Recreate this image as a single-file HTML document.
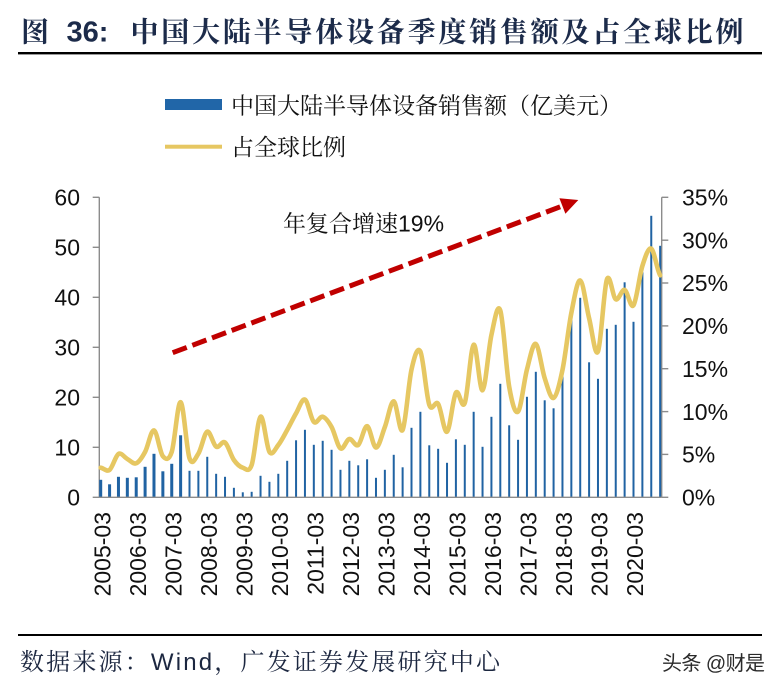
<!DOCTYPE html>
<html><head><meta charset="utf-8"><style>
html,body{margin:0;padding:0;background:#fff;}
svg{display:block;}
.cj{font-family:"Liberation Sans","Noto Serif CJK SC",serif;}
.ax{font-family:"Liberation Sans",sans-serif;font-size:23px;fill:#111;}
</style></head><body>
<svg width="784" height="692" viewBox="0 0 784 692" xmlns="http://www.w3.org/2000/svg">
<rect width="784" height="692" fill="#fff"/>
<text x="21" y="41.5" class="cj" font-size="28" font-weight="bold" fill="#1c2b4a">图</text>
<text x="66.5" y="41.5" font-family="Liberation Sans,sans-serif" font-size="29" font-weight="bold" fill="#1c2b4a">36:</text>
<text x="130.5" y="41.5" class="cj" font-size="28" font-weight="bold" fill="#1c2b4a" textLength="613" lengthAdjust="spacing">中国大陆半导体设备季度销售额及占全球比例</text>
<rect x="18" y="52" width="744" height="2.4" fill="#000"/>
<rect x="165" y="99" width="57" height="11" fill="#2166a8"/>
<text x="231" y="113.5" class="cj" font-size="23" fill="#111" textLength="391" lengthAdjust="spacing">中国大陆半导体设备销售额（亿美元）</text>
<rect x="165" y="144.7" width="57" height="4" fill="#e6c762"/>
<text x="231" y="155" class="cj" font-size="23" fill="#111" textLength="115" lengthAdjust="spacing">占全球比例</text>
<g stroke="#8c8c8c" stroke-width="1.4" fill="none">
<line x1="99.3" y1="197.3" x2="99.3" y2="497.3"/>
<line x1="661.7" y1="197.3" x2="661.7" y2="497.3"/>
<line x1="92.7" y1="197.3" x2="99.3" y2="197.3"/>
<line x1="92.7" y1="247.3" x2="99.3" y2="247.3"/>
<line x1="92.7" y1="297.3" x2="99.3" y2="297.3"/>
<line x1="92.7" y1="347.3" x2="99.3" y2="347.3"/>
<line x1="92.7" y1="397.3" x2="99.3" y2="397.3"/>
<line x1="92.7" y1="447.3" x2="99.3" y2="447.3"/>
<line x1="92.7" y1="497.3" x2="99.3" y2="497.3"/>
<line x1="661.7" y1="197.3" x2="668.3" y2="197.3"/>
<line x1="661.7" y1="240.2" x2="668.3" y2="240.2"/>
<line x1="661.7" y1="283.0" x2="668.3" y2="283.0"/>
<line x1="661.7" y1="325.9" x2="668.3" y2="325.9"/>
<line x1="661.7" y1="368.7" x2="668.3" y2="368.7"/>
<line x1="661.7" y1="411.6" x2="668.3" y2="411.6"/>
<line x1="661.7" y1="454.4" x2="668.3" y2="454.4"/>
<line x1="661.7" y1="497.3" x2="668.3" y2="497.3"/>
</g>
<g class="ax" text-anchor="end">
<text x="80" y="205.5">60</text>
<text x="80" y="255.5">50</text>
<text x="80" y="305.5">40</text>
<text x="80" y="355.5">30</text>
<text x="80" y="405.5">20</text>
<text x="80" y="455.5">10</text>
<text x="80" y="505.5">0</text>
</g>
<g class="ax">
<text x="682" y="205.5">35%</text>
<text x="682" y="248.4">30%</text>
<text x="682" y="291.2">25%</text>
<text x="682" y="334.1">20%</text>
<text x="682" y="376.9">15%</text>
<text x="682" y="419.8">10%</text>
<text x="682" y="462.6">5%</text>
<text x="682" y="505.5">0%</text>
</g>
<g fill="#2063a3">
<rect x="99.2" y="479.8" width="3" height="17.5"/>
<rect x="108.08" y="484.3" width="3" height="13"/>
<rect x="116.96" y="476.8" width="3" height="20.5"/>
<rect x="125.84" y="477.8" width="3" height="19.5"/>
<rect x="134.72" y="477.3" width="3" height="20"/>
<rect x="143.6" y="466.8" width="3" height="30.5"/>
<rect x="152.48" y="453.8" width="3" height="43.5"/>
<rect x="161.36" y="471.3" width="3" height="26"/>
<rect x="170.24" y="463.8" width="3" height="33.5"/>
<rect x="179.12" y="435.3" width="3" height="62"/>
<rect x="188.5" y="470.8" width="2" height="26.5"/>
<rect x="197.38" y="470.8" width="2" height="26.5"/>
<rect x="206.26" y="456.8" width="2" height="40.5"/>
<rect x="215.14" y="473.8" width="2" height="23.5"/>
<rect x="224.02" y="476.8" width="2" height="20.5"/>
<rect x="232.9" y="487.8" width="2" height="9.5"/>
<rect x="241.78" y="492.3" width="2" height="5"/>
<rect x="250.66" y="491.8" width="2" height="5.5"/>
<rect x="259.54" y="475.8" width="2" height="21.5"/>
<rect x="268.42" y="481.8" width="2" height="15.5"/>
<rect x="277.3" y="473.8" width="2" height="23.5"/>
<rect x="286.18" y="460.8" width="2" height="36.5"/>
<rect x="295.06" y="440.3" width="2" height="57"/>
<rect x="303.94" y="429.8" width="2" height="67.5"/>
<rect x="312.82" y="444.8" width="2" height="52.5"/>
<rect x="321.7" y="440.8" width="2" height="56.5"/>
<rect x="330.58" y="449.8" width="2" height="47.5"/>
<rect x="339.46" y="469.8" width="2" height="27.5"/>
<rect x="348.34" y="460.8" width="2" height="36.5"/>
<rect x="357.22" y="465.3" width="2" height="32"/>
<rect x="366.1" y="459.3" width="2" height="38"/>
<rect x="374.98" y="477.8" width="2" height="19.5"/>
<rect x="383.86" y="469.8" width="2" height="27.5"/>
<rect x="392.74" y="454.8" width="2" height="42.5"/>
<rect x="401.62" y="467.3" width="2" height="30"/>
<rect x="410.5" y="427.8" width="2" height="69.5"/>
<rect x="419.38" y="411.8" width="2" height="85.5"/>
<rect x="428.26" y="445.3" width="2" height="52"/>
<rect x="437.14" y="448.8" width="2" height="48.5"/>
<rect x="446.02" y="462.8" width="2" height="34.5"/>
<rect x="454.9" y="439.3" width="2" height="58"/>
<rect x="463.78" y="444.8" width="2" height="52.5"/>
<rect x="472.66" y="411.8" width="2" height="85.5"/>
<rect x="481.54" y="446.8" width="2" height="50.5"/>
<rect x="490.42" y="416.8" width="2" height="80.5"/>
<rect x="499.3" y="383.8" width="2" height="113.5"/>
<rect x="508.18" y="425.3" width="2" height="72"/>
<rect x="517.06" y="439.8" width="2" height="57.5"/>
<rect x="525.94" y="396.8" width="2" height="100.5"/>
<rect x="534.82" y="371.8" width="2" height="125.5"/>
<rect x="543.7" y="400.3" width="2" height="97"/>
<rect x="552.58" y="408.3" width="2" height="89"/>
<rect x="561.46" y="372.3" width="2" height="125"/>
<rect x="570.34" y="312.3" width="2" height="185"/>
<rect x="579.22" y="297.8" width="2" height="199.5"/>
<rect x="588.1" y="362.3" width="2" height="135"/>
<rect x="596.98" y="378.8" width="2" height="118.5"/>
<rect x="605.86" y="328.8" width="2" height="168.5"/>
<rect x="614.74" y="324.8" width="2" height="172.5"/>
<rect x="623.62" y="282.3" width="2" height="215"/>
<rect x="632.5" y="321.8" width="2" height="175.5"/>
<rect x="641.38" y="272.3" width="2" height="225"/>
<rect x="650.26" y="215.8" width="2" height="281.5"/>
<rect x="659.14" y="245.8" width="2" height="251.5"/>
</g>
<line x1="99.3" y1="497.3" x2="661.7" y2="497.3" stroke="#8c8c8c" stroke-width="1.4"/>
<path fill="none" stroke="#e6c762" stroke-width="4.6" stroke-linejoin="round" stroke-linecap="round"
d="M100.7,467.7 C103.66,468.07 106.62,472.18 109.58,469.9
S115.5,455.82 118.46,454
S124.38,457.45 127.34,459
S133.26,464.48 136.22,463.3
S142.14,457.38 145.1,451.9
S151.02,429.68 153.98,430.4
S159.9,452.62 162.86,456.2
S168.78,460.9 171.74,451.9
S177.66,401.13 180.62,402.2
S186.54,449.73 189.5,458.3
S195.42,458.03 198.38,453.6
S204.3,432.85 207.26,431.7
S213.18,444.9 216.14,446.7
S222.06,440.28 225.02,442.5
S230.94,455.8 233.9,460
S239.82,466.87 242.78,467.7
S248.7,473.5 251.66,465
S257.58,418.88 260.54,416.7
S266.46,447.18 269.42,451.9
S275.34,448.65 278.3,445
S284.22,435.28 287.18,430
S293.1,418.37 296.06,413.3
S301.98,398.17 304.94,399.6
S310.86,419.05 313.82,421.9
S319.74,415.85 322.7,416.7
S328.62,421.72 331.58,427
S337.5,446.4 340.46,448.4
S346.38,439.57 349.34,439
S355.26,447.13 358.22,445
S364.14,425.77 367.1,426.2
S373.02,447.47 375.98,447.6
S381.9,434.72 384.86,427
S390.78,400.8 393.74,401.3
S399.66,435.28 402.62,430
S408.54,382.67 411.5,369.6
S417.42,345.75 420.38,351.6
S426.3,395.98 429.26,404.7
S435.18,399.4 438.14,403.9
S444.06,433.57 447.02,431.7
S452.94,397.48 455.9,392.7
S461.82,411 464.78,403
S470.7,346.83 473.66,344.7
S479.58,391.82 482.54,390.2
S488.46,348.28 491.42,335
S497.34,301.88 500.3,310.5
S506.22,369.85 509.18,386.7
S515.1,414.45 518.06,411.6
S523.98,380.88 526.94,369.6
S532.86,342.47 535.82,343.9
S541.74,369.2 544.7,378.2
S550.62,399.27 553.58,397.9
S559.5,384.15 562.46,370
S568.38,327.92 571.34,313
S577.26,279.63 580.22,280.5
S586.14,306.35 589.1,318.2
S595.02,358.03 597.98,351.6
S603.9,288.32 606.86,279.6
S612.78,297.58 615.74,299.3
S621.66,288.9 624.62,289.9
S630.54,309.3 633.5,305.3
S639.42,275.33 642.38,265.9
S648.3,247.13 651.26,248.7
S657.18,270.87 660.14,275.3"/>
<line x1="172.7" y1="352.7" x2="562.4" y2="206.0" stroke="#c00000" stroke-width="5" stroke-dasharray="15 6"/>
<polygon points="578.3,200 559.4,198.3 565.4,213.7" fill="#c00000"/>
<text x="283" y="231.5" class="cj" font-size="23" fill="#111">年复合增速19%</text>
<g class="ax" text-anchor="end">
<text transform="translate(110.4,512) rotate(-90)">2005-03</text>
<text transform="translate(145.9,512) rotate(-90)">2006-03</text>
<text transform="translate(181.4,512) rotate(-90)">2007-03</text>
<text transform="translate(217.0,512) rotate(-90)">2008-03</text>
<text transform="translate(252.5,512) rotate(-90)">2009-03</text>
<text transform="translate(288.0,512) rotate(-90)">2010-03</text>
<text transform="translate(323.5,512) rotate(-90)">2011-03</text>
<text transform="translate(359.0,512) rotate(-90)">2012-03</text>
<text transform="translate(394.6,512) rotate(-90)">2013-03</text>
<text transform="translate(430.1,512) rotate(-90)">2014-03</text>
<text transform="translate(465.6,512) rotate(-90)">2015-03</text>
<text transform="translate(501.1,512) rotate(-90)">2016-03</text>
<text transform="translate(536.6,512) rotate(-90)">2017-03</text>
<text transform="translate(572.2,512) rotate(-90)">2018-03</text>
<text transform="translate(607.7,512) rotate(-90)">2019-03</text>
<text transform="translate(643.2,512) rotate(-90)">2020-03</text>
</g>
<rect x="18" y="634" width="744" height="2" fill="#000"/>
<text x="20" y="670" class="cj" font-size="24" fill="#1c2740" textLength="480" lengthAdjust="spacing">数据来源：Wind，广发证券发展研究中心</text>
<text x="662" y="670" font-family="Liberation Sans,Noto Sans CJK SC,sans-serif" font-size="20" fill="#2a2a2a" textLength="103" lengthAdjust="spacing">头条 @财是</text>
</svg>
</body></html>
